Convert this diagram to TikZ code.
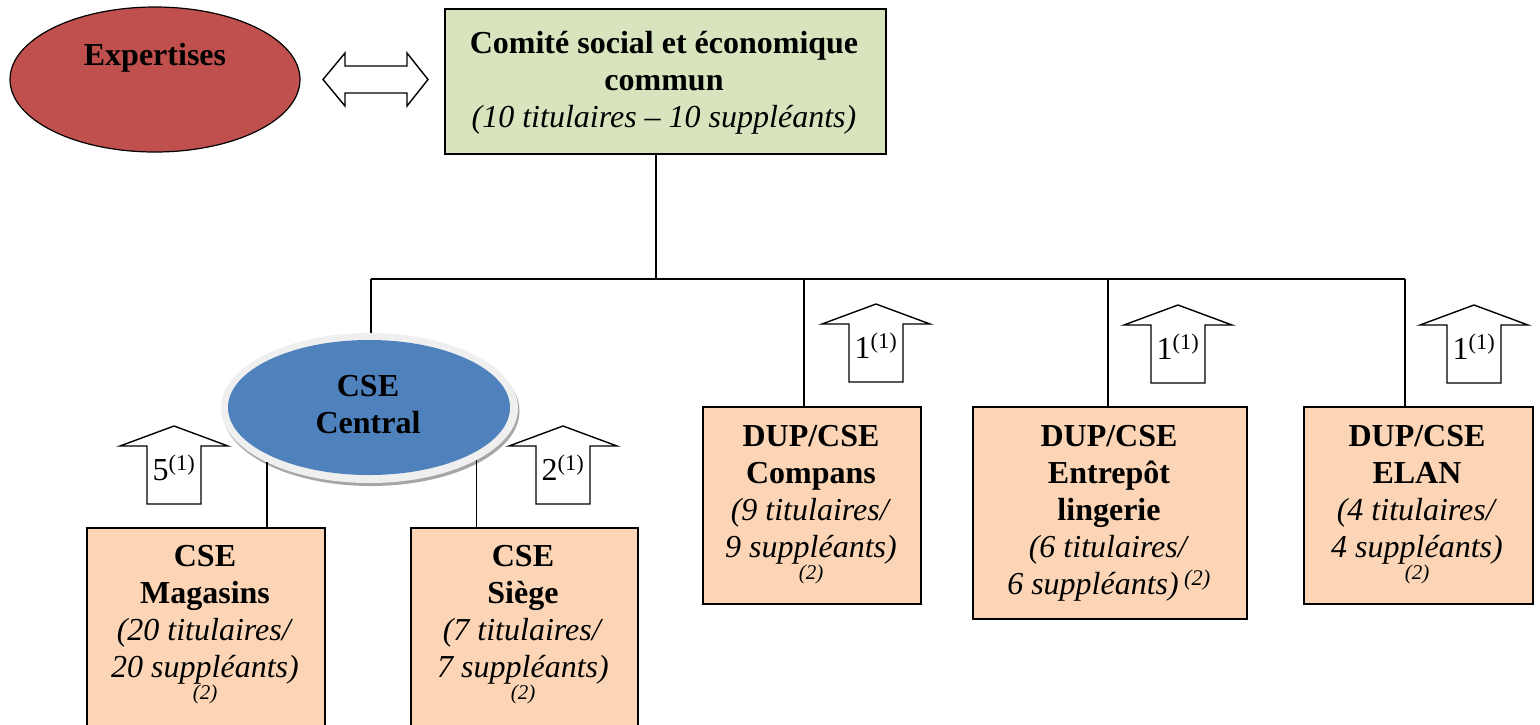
\documentclass[tikz,border=0pt]{standalone}
\usepackage{fontspec}
\setmainfont{Liberation Serif}
\usetikzlibrary{shapes.geometric}
\definecolor{expred}{HTML}{C0504D}
\definecolor{titlegreen}{HTML}{D7E4BD}
\definecolor{peach}{HTML}{FBD5B5}
\definecolor{cseblue}{HTML}{4F81BD}
\definecolor{rimgray}{HTML}{EFEFEF}
\definecolor{shadowgray}{HTML}{A6A6A6}
\newcommand\blockup[4]{%
  \draw[blockarrow] (#2,#3) -- ++(54,20) -- ++(-27,0) -- ++(0,58) -- ++(-54,0) -- ++(0,-58) -- ++(-27,0) -- cycle;
  \node[txt, anchor=base] (#1) at (#2,#3+54) {#4};}
\newcommand\notetwo{{\fontsize{21}{21}\selectfont\itshape (2)}}
\begin{document}
\begin{tikzpicture}[x=1pt,y=-1pt,
  txt/.style={inner sep=0pt, align=center, font=\fontsize{32}{36.8}\selectfont},
  boxnode/.style={draw=black, line width=1.6pt, fill=peach, inner sep=0pt, anchor=north west},
  conn/.style={draw=black, line width=1.3pt},
  blockarrow/.style={draw=black, line width=1.4pt, fill=white, line join=miter}]
\useasboundingbox (0,0) rectangle (1540,724);

% Expertises
\node[ellipse, draw=black, line width=1.2pt, fill=expred, minimum width=290pt, minimum height=145pt, inner sep=0pt] (exp) at (155,79.5) {};
\node[txt, anchor=base] (expt) at (155,65) {\textbf{Expertises}};

% double arrow
\draw[blockarrow] (323,79.5) -- (345,53) -- (345,66) -- (407,66) -- (407,53) -- (428,79.5) -- (407,106) -- (407,93) -- (345,93) -- (345,106) -- cycle;

% title box
\node[draw=black, line width=1.6pt, fill=titlegreen, inner sep=0pt, anchor=north west, minimum width=441pt, minimum height=145pt] (title) at (444,8) {};
\node[txt, anchor=north] (titlet) at (664,28) {\strut\textbf{Comité social et économique}\\\textbf{commun}\\\textit{(10 titulaires – 10 suppléants)}};

% bus
\coordinate (jt) at (656,279);
\coordinate (jl) at (371,279);
\coordinate (jc) at (804,279);
\coordinate (je) at (1108,279);
\coordinate (jr) at (1405,279);
\draw[conn] (title.south -| jt) -- (jt);
\draw[conn] (jl) -- (jr);

% CSE Central
\node[ellipse, fill=shadowgray, minimum width=297pt, minimum height=150pt, inner sep=0pt] (shadow) at (371,411) {};
\node[ellipse, fill=rimgray, minimum width=297pt, minimum height=150pt, inner sep=0pt] (rim) at (369.5,408) {};
\node[ellipse, fill=cseblue, minimum width=282pt, minimum height=135pt, inner sep=0pt] (cc) at (369,407.5) {};
\node[txt, anchor=north] (cct) at (368,371) {\strut\textbf{CSE}\\\textbf{Central}};
\draw[conn] (jl) -- (jl |- rim.north);

% boxes
\node[boxnode, minimum width=238pt, minimum height=200pt] (mag) at (86,527) {};
\node[boxnode, minimum width=227pt, minimum height=200pt] (sie) at (410,527) {};
\node[boxnode, minimum width=218pt, minimum height=197pt] (com) at (702,406) {};
\node[boxnode, minimum width=274pt, minimum height=212pt] (ent) at (972,406) {};
\node[boxnode, minimum width=229pt, minimum height=197pt] (ela) at (1303,406) {};

\node[txt, anchor=north] (magt) at (205,541) {\strut\textbf{CSE}\\\textbf{Magasins}\\\textit{(20 titulaires/}\\\textit{20 suppléants)}\\[-15pt]\notetwo};
\node[txt, anchor=north] (siet) at (523,541) {\strut\textbf{CSE}\\\textbf{Siège}\\\textit{(7 titulaires/}\\\textit{7 suppléants)}\\[-15pt]\notetwo};
\node[txt, anchor=north] (comt) at (811,421) {\strut\textbf{DUP/CSE}\\\textbf{Compans}\\\textit{(9 titulaires/}\\\textit{9 suppléants)}\\[-15pt]\notetwo};
\node[txt, anchor=north] (entt) at (1109,421) {\strut\textbf{DUP/CSE}\\\textbf{Entrepôt}\\\textbf{lingerie}\\\textit{(6 titulaires/}\\\textit{6 suppléants)\/}\,\textsuperscript{\itshape (2)}};
\node[txt, anchor=north] (elat) at (1417,421) {\strut\textbf{DUP/CSE}\\\textbf{ELAN}\\\textit{(4 titulaires/}\\\textit{4 suppléants)}\\[-15pt]\notetwo};

% connectors to boxes
\draw[conn] (rim.208) -- (rim.208 |- mag.north);
\draw[conn] (rim.334) -- (rim.334 |- sie.north);
\draw[conn] (jc) -- (jc |- com.north);
\draw[conn] (je) -- (je |- ent.north);
\draw[conn] (jr) -- (jr |- ela.north);

% block arrows
\blockup{am}{174}{426}{5\textsuperscript{(1)}}
\blockup{as}{563}{426}{2\textsuperscript{(1)}}
\blockup{ac}{876}{304}{1\textsuperscript{(1)}}
\blockup{ae}{1178}{305}{1\textsuperscript{(1)}}
\blockup{al}{1474}{305}{1\textsuperscript{(1)}}
\end{tikzpicture}
\end{document}
